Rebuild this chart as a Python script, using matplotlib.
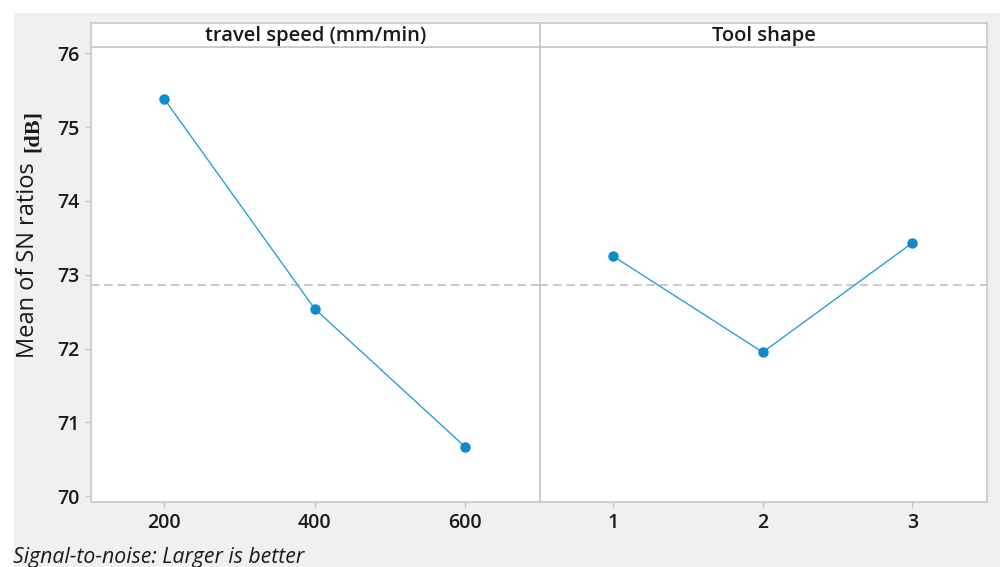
import matplotlib
matplotlib.use("Agg")
import matplotlib.pyplot as plt
from matplotlib.patches import Rectangle

# ---- data ----
speed_levels = ["200", "400", "600"]
speed_means = [75.38, 72.54, 70.67]
shape_levels = ["1", "2", "3"]
shape_means = [73.25, 71.95, 73.43]
panel_titles = ["travel speed (mm/min)", "Tool shape"]
yticks = [70, 71, 72, 73, 74, 75, 76]
grand_mean = 72.86

plt.rcParams['font.family'] = ['Open Sans', 'DejaVu Sans']

W, H = 1000, 567
fig = plt.figure(figsize=(W / 100, H / 100), dpi=100)
fig.patch.set_facecolor('white')
fig.patches.append(Rectangle((14 / W, 0), 1 - 14 / W, 1 - 13 / H,
                             transform=fig.transFigure, facecolor='#f0f0f0',
                             edgecolor='none', zorder=-10))

spine_col = '#c8c8c8'
line_col = '#2a9fd8'
mark_col = '#0b8ccc'
txt_col = '#1a1a1a'

bottom = 1 - 502 / H
top = 1 - 46.7 / H
height = top - bottom
strip_h = (46.7 - 23.3) / H

panels = [(90.7, 540, speed_levels, speed_means), (540, 987, shape_levels, shape_means)]
axes = []
for i, (x0, x1, levels, means) in enumerate(panels):
    ax = fig.add_axes([x0 / W, bottom, (x1 - x0) / W, height])
    ax.set_facecolor('white')
    xs = list(range(1, len(levels) + 1))
    ax.axhline(grand_mean, color='#c0c0c0', lw=1.2, ls=(0, (5, 3)), zorder=1)
    ax.plot(xs, means, color=line_col, lw=1.0, zorder=2)
    ax.plot(xs, means, 'o', color=mark_col, ms=6.5, zorder=3)
    ax.set_xlim(0.51, 3.5)
    ax.set_ylim(69.92, 76.09)
    ax.set_xticks(xs)
    ax.set_xticklabels(levels)
    ax.set_yticks(yticks)
    for s in ax.spines.values():
        s.set_color(spine_col)
        s.set_linewidth(1.2)
    ax.tick_params(axis='both', colors=spine_col, labelcolor=txt_col,
                   labelsize=14, length=4, width=1)
    ax.tick_params(axis='x', pad=4)
    ax.tick_params(axis='y', pad=4)
    for lab in ax.get_xticklabels() + ax.get_yticklabels():
        lab.set_fontweight('semibold')
    if i > 0:
        ax.tick_params(axis='y', left=False, labelleft=False)
    # strip
    sax = fig.add_axes([x0 / W, top, (x1 - x0) / W, strip_h])
    sax.set_facecolor('white')
    sax.set_xticks([])
    sax.set_yticks([])
    for s in sax.spines.values():
        s.set_color(spine_col)
        s.set_linewidth(1.2)
    sax.text(0.5, 0.45, panel_titles[i], ha='center', va='center',
             fontsize=14.5, fontweight='semibold', color=txt_col,
             transform=sax.transAxes)
    axes.append(ax)

# y label: sans part + serif unit
fig.text(28 / W, 1 - 260 / H, "Mean of SN ratios", rotation=90,
         ha='center', va='center', fontsize=17, fontweight='medium', color=txt_col)
fig.text(33 / W, 1 - 131 / H, "[dB]", rotation=90, ha='center', va='center',
         fontsize=16, color=txt_col, family=['Liberation Serif', 'DejaVu Serif'],
         fontweight='bold')

fig.text(13 / W, 1 - 558 / H, "Signal-to-noise: Larger is better", ha='left',
         va='center', fontsize=15.3, style='italic', color=txt_col)

fig.savefig("out.png", dpi=100)
